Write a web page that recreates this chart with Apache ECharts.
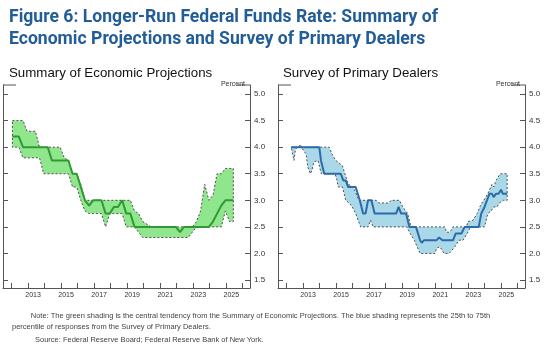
<!DOCTYPE html>
<html>
<head>
<meta charset="utf-8">
<script src="https://cdn.jsdelivr.net/npm/echarts@6/dist/echarts.min.js"></script>
<style>
  html, body { margin: 0; padding: 0; background: #fff; }
  #chart { width: 550px; height: 354px; }
</style>
</head>
<body>
<div id="chart"></div>
<script>
// axis ticks / labels
const yearTicks = [2012, 2013, 2014, 2015, 2016, 2017, 2018, 2019, 2020, 2021, 2022, 2023, 2024, 2025, 2026];
const yearLabels = [2013, 2015, 2017, 2019, 2021, 2023, 2025];
const percentTicks = [1.5, 2.0, 2.5, 3.0, 3.5, 4.0, 4.5, 5.0];

// Summary of Economic Projections (release date as decimal year)
const sepDates = [
  2012.07, 2012.32, 2012.46, 2012.71, 2012.96,
  2013.21, 2013.46, 2013.71, 2013.96,
  2014.21, 2014.46, 2014.71, 2014.96,
  2015.21, 2015.46, 2015.71, 2015.96,
  2016.21, 2016.46, 2016.71, 2016.96,
  2017.21, 2017.46, 2017.71, 2017.96,
  2018.21, 2018.46, 2018.71, 2018.96,
  2019.21, 2019.46, 2019.71, 2019.96,
  2020.46, 2020.71, 2020.96,
  2021.21, 2021.46, 2021.71, 2021.96,
  2022.21, 2022.46, 2022.71, 2022.96,
  2023.21, 2023.46, 2023.71, 2023.96,
  2024.21, 2024.46, 2024.71, 2024.96,
  2025.21, 2025.44
];
const sepMedian = [
  4.2, 4.2, 4.2, 4.0, 4.0,
  4.0, 4.0, 4.0, 4.0,
  4.0, 3.75, 3.75, 3.75,
  3.75, 3.75, 3.5, 3.5,
  3.25, 3.0, 2.9, 3.0,
  3.0, 3.0, 2.75, 2.75,
  2.875, 2.875, 3.0, 2.75,
  2.75, 2.5, 2.5, 2.5,
  2.5, 2.5, 2.5,
  2.5, 2.5, 2.5, 2.5,
  2.4, 2.5, 2.5, 2.5,
  2.5, 2.5, 2.5, 2.5,
  2.6, 2.75, 2.9, 3.0,
  3.0, 3.0
];
const sepLow = [
  4.0, 4.0, 4.0, 3.8, 3.8,
  3.8, 3.8, 3.8, 3.5,
  3.5, 3.5, 3.5, 3.5,
  3.5, 3.5, 3.25, 3.25,
  3.0, 2.8, 2.75, 2.75,
  2.75, 2.75, 2.5, 2.75,
  2.75, 2.75, 2.75, 2.5,
  2.5, 2.5, 2.4, 2.3,
  2.3, 2.3, 2.3,
  2.3, 2.3, 2.3, 2.3,
  2.3, 2.3, 2.3, 2.4,
  2.5, 2.5, 2.5, 2.5,
  2.5, 2.5, 2.5, 2.8,
  2.6, 2.6
];
const sepHigh = [
  4.5, 4.5, 4.5, 4.5, 4.3,
  4.3, 4.3, 4.0, 4.0,
  4.0, 4.0, 4.0, 4.0,
  3.8, 3.75, 3.5, 3.5,
  3.3, 3.0, 3.0, 3.0,
  3.0, 3.0, 3.0, 3.0,
  3.0, 3.0, 3.0, 3.0,
  3.0, 2.8, 2.75, 2.6,
  2.5, 2.5, 2.5,
  2.5, 2.5, 2.5, 2.5,
  2.5, 2.5, 2.5, 2.5,
  2.6, 2.8, 3.3, 3.0,
  3.1, 3.5, 3.5, 3.6,
  3.6, 3.6
];

// Survey of Primary Dealers: [decimal year, percent]
const spdMedian = [
  [2012.3, 4.0], [2014.0, 4.0], [2014.1, 3.75], [2014.2, 3.75], [2014.3, 3.5],
  [2015.3, 3.5], [2015.45, 3.375], [2015.6, 3.375], [2015.75, 3.25], [2016.2, 3.25],
  [2016.45, 3.0], [2016.65, 2.75], [2016.8, 2.75], [2016.95, 3.0], [2017.15, 3.0],
  [2017.35, 2.75], [2018.65, 2.75], [2018.8, 2.875], [2018.95, 2.75], [2019.25, 2.75],
  [2019.45, 2.5], [2019.85, 2.5], [2020.1, 2.25], [2020.2, 2.2], [2020.35, 2.25],
  [2021.1, 2.25], [2021.25, 2.3], [2021.35, 2.3], [2021.45, 2.25], [2022.1, 2.25],
  [2022.25, 2.375], [2022.6, 2.375], [2022.8, 2.5], [2023.65, 2.5], [2023.8, 2.75],
  [2024.0, 2.875], [2024.15, 3.0], [2024.3, 3.125], [2024.45, 3.125], [2024.55, 3.06],
  [2024.7, 3.125], [2024.85, 3.125], [2025.0, 3.2], [2025.1, 3.125], [2025.37, 3.125]
];
const spdHigh = [
  [2012.3, 4.0], [2012.75, 4.0], [2012.85, 4.05], [2012.95, 4.0], [2014.6, 4.0],
  [2014.8, 3.85], [2015.0, 3.75], [2015.2, 3.7], [2015.4, 3.65], [2015.55, 3.5],
  [2015.75, 3.3], [2016.05, 3.25], [2016.4, 3.0], [2017.45, 3.0], [2017.6, 2.95],
  [2018.2, 2.95], [2018.35, 3.0], [2018.85, 3.0], [2019.05, 2.875], [2019.35, 2.75],
  [2019.55, 2.5], [2021.6, 2.5], [2021.7, 2.4], [2021.9, 2.4], [2022.1, 2.5],
  [2022.9, 2.5], [2023.0, 2.6], [2023.3, 2.625], [2023.55, 2.75], [2023.75, 2.9],
  [2023.95, 3.0], [2024.2, 3.125], [2024.45, 3.3], [2024.55, 3.25], [2024.7, 3.375],
  [2024.95, 3.5], [2025.37, 3.5]
];
const spdLow = [
  [2012.3, 4.0], [2012.4, 3.85], [2012.47, 3.75], [2012.55, 3.95], [2012.65, 4.0],
  [2012.9, 4.0], [2013.2, 3.87], [2013.3, 3.63], [2013.46, 3.5], [2013.55, 3.56],
  [2013.67, 3.72], [2013.92, 3.75], [2014.12, 3.5], [2014.95, 3.5], [2015.05, 3.4],
  [2015.15, 3.25], [2015.4, 3.25], [2015.6, 3.0], [2015.8, 2.95], [2016.0, 2.875],
  [2016.2, 2.75], [2016.5, 2.5], [2016.95, 2.5], [2017.1, 2.625], [2017.25, 2.5],
  [2019.3, 2.5], [2019.5, 2.375], [2019.75, 2.25], [2020.1, 2.0], [2021.0, 2.0],
  [2021.1, 2.1], [2021.3, 2.125], [2021.55, 2.0], [2021.85, 2.0], [2022.0, 2.05],
  [2022.2, 2.125], [2022.45, 2.25], [2022.7, 2.25], [2022.95, 2.375], [2023.15, 2.5],
  [2024.0, 2.5], [2024.2, 2.75], [2024.4, 2.8], [2024.55, 2.875], [2024.75, 2.875],
  [2024.9, 2.95], [2025.15, 3.0], [2025.37, 3.0]
];

const pair = (xs, ys) => xs.map((x, i) => [x, ys[i]]);

const grids = [
  { left: 3, top: 85, width: 247, height: 203 },
  { left: 278, top: 85, width: 247, height: 203 }
];
const axisColor = '#555';
const textColor = '#333';

const chart = echarts.init(document.getElementById('chart'));

const xAxes = grids.map((g, i) => ({
  gridIndex: i,
  type: 'value',
  min: 2011.5,
  max: 2026.45,
  z: 5,
  axisLine: { show: true, onZero: false, lineStyle: { color: axisColor, width: 1 } },
  axisTick: { show: true, inside: true, length: 5, customValues: yearTicks, lineStyle: { color: axisColor } },
  axisLabel: {
    customValues: yearLabels.map(y => y + 0.32),
    formatter: v => String(Math.floor(v)),
    fontSize: 7, color: textColor, margin: 4, fontFamily: 'Liberation Sans'
  },
  splitLine: { show: false }
}));

const yAxes = [];
grids.forEach((g, i) => {
  const base = {
    gridIndex: i,
    type: 'value',
    min: 1.35,
    max: 5.17,
    z: 5,
    axisLine: { show: true, lineStyle: { color: axisColor, width: 1 } },
    axisTick: { show: true, inside: true, length: 5, customValues: percentTicks, lineStyle: { color: axisColor } },
    splitLine: { show: false }
  };
  yAxes.push({ ...base, position: 'left', axisLabel: { show: false } });
  yAxes.push({
    ...base,
    position: 'right',
    axisLabel: {
      customValues: percentTicks,
      formatter: v => v.toFixed(1),
      fontSize: 8, color: textColor, margin: 4, fontFamily: 'Liberation Sans'
    }
  });
});

function bandSeries(i, high, low, fill) {
  return {
    type: 'custom',
    xAxisIndex: i,
    yAxisIndex: i * 2,
    z: 1,
    silent: true,
    data: [[2018, 3]],
    renderItem: (params, api) => {
      const pts = high.map(p => api.coord(p))
        .concat(low.slice().reverse().map(p => api.coord(p)));
      return {
        type: 'polygon',
        shape: { points: pts },
        style: { fill, stroke: '#4d4d4d', lineWidth: 1, lineDash: [2, 2] }
      };
    }
  };
}

function lineSeries(i, data, color) {
  return {
    type: 'line',
    xAxisIndex: i,
    yAxisIndex: i * 2,
    z: 3,
    data,
    showSymbol: false,
    silent: true,
    lineStyle: { color, width: 2 }
  };
}

// short stubs along the top edge of each frame
const stubs = [];
grids.forEach(g => {
  stubs.push({ type: 'line', shape: { x1: g.left, y1: g.top, x2: g.left + 13, y2: g.top }, style: { stroke: axisColor, lineWidth: 1 } });
  stubs.push({ type: 'line', shape: { x1: g.left + g.width - 13, y1: g.top, x2: g.left + g.width, y2: g.top }, style: { stroke: axisColor, lineWidth: 1 } });
});

chart.setOption({
  animation: false,
  textStyle: { fontFamily: 'Liberation Sans' },
  title: [
    {
      text: 'Figure 6: Longer-Run Federal Funds Rate: Summary of\nEconomic Projections and Survey of Primary Dealers',
      left: 4, top: 2,
      textStyle: { fontSize: 17.6, fontWeight: 'bold', color: '#225d97', lineHeight: 22, fontFamily: 'Roboto' }
    },
    { text: 'Summary of Economic Projections', left: 4, top: 62, textStyle: { fontSize: 13.3, fontWeight: 'normal', color: '#111' } },
    { text: 'Survey of Primary Dealers', left: 278, top: 62, textStyle: { fontSize: 13.3, fontWeight: 'normal', color: '#111' } },
    { text: 'Percent', right: 300, top: 76, textStyle: { fontSize: 7, fontWeight: 'normal', color: textColor } },
    { text: 'Percent', right: 25, top: 76, textStyle: { fontSize: 7, fontWeight: 'normal', color: textColor } },
    {
      text: '         Note: The green shading is the central tendency from the Summary of Economic Projections. The blue shading represents the 25th to 75th\npercentile of responses from the Survey of Primary Dealers.',
      left: 7, top: 305,
      textStyle: { fontSize: 7.5, fontWeight: 'normal', color: '#444', lineHeight: 11 }
    },
    {
      text: 'Source: Federal Reserve Board; Federal Reserve Bank of New York.',
      left: 30, top: 331,
      textStyle: { fontSize: 7.5, fontWeight: 'normal', color: '#444' }
    }
  ],
  grid: grids,
  xAxis: xAxes,
  yAxis: yAxes,
  graphic: stubs,
  series: [
    bandSeries(0, pair(sepDates, sepHigh), pair(sepDates, sepLow), '#90e68c'),
    lineSeries(0, pair(sepDates, sepMedian), '#2f9a33'),
    bandSeries(1, spdHigh, spdLow, '#a9d8e8'),
    lineSeries(1, spdMedian, '#2f6aa8')
  ]
});
</script>
</body>
</html>
